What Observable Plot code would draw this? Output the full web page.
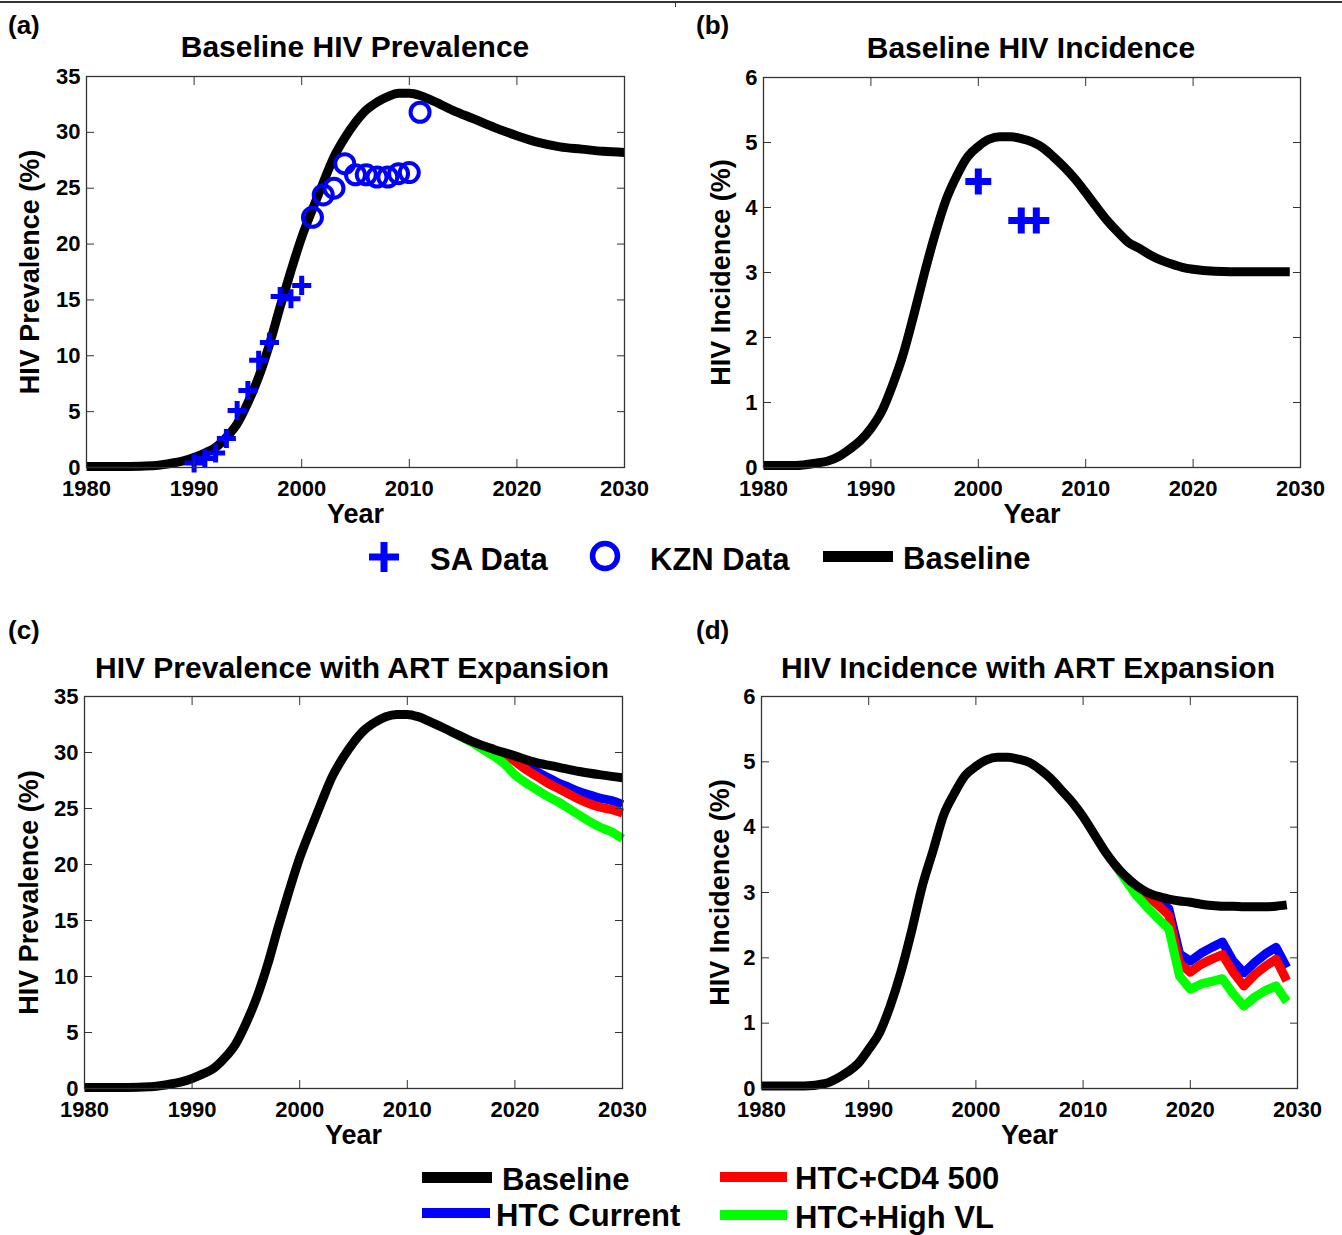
<!DOCTYPE html>
<html><head><meta charset="utf-8">
<script src="https://cdn.jsdelivr.net/npm/d3@7"></script>
<script src="https://cdn.jsdelivr.net/npm/@observablehq/plot@0.6"></script>
<style>
html,body{margin:0;padding:0;background:#fff;}
#page{position:relative;width:1342px;height:1235px;overflow:hidden;font-family:"Liberation Sans",Arial,Helvetica,sans-serif;font-weight:bold;color:#000;background:#fff;}
.t{position:absolute;white-space:nowrap;line-height:1;}
.sw{position:absolute;overflow:visible;}
</style></head><body><div id="page"></div>
<script>
// ---------------- DATA ----------------
const yearTicks = [1980, 1990, 2000, 2010, 2020, 2030];
const prevTicks = [0, 5, 10, 15, 20, 25, 30, 35];
const incTicks = [0, 1, 2, 3, 4, 5, 6];

// (a) Baseline HIV prevalence
const prevYears = [1980,1984,1986,1987,1988,1989,1990,1991,1992,1993,1994,1995,1996,1997,1998,1999,2000,2001,2002,2003,2004,2005,2006,2007,2008,2009,2010,2011,2012,2014,2016,2018,2020,2022,2024,2026,2028,2030];
const prevBaselineA = [0.1,0.1,0.15,0.25,0.4,0.6,0.9,1.3,1.8,2.7,3.9,5.8,8.1,11.0,14.4,17.6,20.6,23.1,25.5,27.8,29.5,30.9,32.0,32.7,33.2,33.5,33.5,33.3,32.9,32.0,31.2,30.4,29.7,29.1,28.7,28.5,28.3,28.2];
const saPrevYears = [1990,1991,1992,1993,1994,1995,1996,1997,1998,1999,2000];
const saPrev = [0.4,0.8,1.3,2.6,5.1,6.9,9.6,11.2,15.3,15.1,16.3];
const kznYears = [2001,2002,2003,2004,2005,2006,2007,2008,2009,2010,2011];
const kznPrev = [22.4,24.4,25.0,27.2,26.2,26.2,26.0,26.0,26.3,26.4,31.8];

// (b) Baseline HIV incidence
const incYearsB = [1980,1983,1985,1986,1987,1988,1989,1990,1991,1992,1993,1994,1995,1996,1997,1998,1999,2000,2001,2002,2003,2004,2005,2006,2007,2008,2009,2010,2011,2012,2013,2014,2015,2016,2017,2018,2019,2020,2022,2025,2029];
const incBaselineB = [0.03,0.03,0.07,0.1,0.17,0.28,0.41,0.6,0.86,1.26,1.74,2.35,3.0,3.6,4.12,4.49,4.78,4.94,5.05,5.09,5.09,5.06,5.01,4.92,4.78,4.62,4.44,4.23,4.01,3.8,3.62,3.46,3.37,3.27,3.19,3.13,3.08,3.05,3.02,3.01,3.01];
const saIncYears = [2000, 2004, 2005.4];
const saInc = [4.4, 3.8, 3.8];

// (c) Prevalence with ART expansion
const prevBaselineC = [0.1,0.1,0.15,0.25,0.4,0.6,0.9,1.3,1.8,2.7,3.9,5.8,8.1,11.0,14.4,17.6,20.6,23.1,25.5,27.8,29.5,30.9,32.0,32.7,33.2,33.4,33.4,33.2,32.8,31.9,31.0,30.3,29.7,29.1,28.7,28.3,28.0,27.75];
const greenYearsC = [2014,2015,2016,2017,2018,2019,2020,2021,2022,2023,2024,2025,2026,2027,2028,2029,2030];
const highVLPrev = [31.9,31.4,30.9,30.3,29.7,29.0,28.0,27.3,26.7,26.1,25.6,25.0,24.4,23.8,23.3,22.9,22.3];
const armYearsC = [2019,2020,2021,2022,2023,2024,2025,2026,2027,2028,2029,2030];
const cd4Prev = [29.9,29.2,28.5,27.9,27.3,26.8,26.3,25.8,25.4,25.1,24.9,24.6];
const currentPrev = [29.9,29.4,28.8,28.3,27.8,27.3,26.9,26.5,26.2,25.9,25.7,25.35];

// (d) Incidence with ART expansion
const incYearsD = [1980,1984,1986,1987,1988,1989,1990,1991,1992,1993,1994,1995,1996,1997,1998,1999,2000,2001,2002,2003,2004,2005,2006,2007,2008,2009,2010,2011,2012,2013,2014,2015,2016,2017,2018,2019,2020,2021,2022,2023,2024,2025,2026,2027,2028,2029];
const incBaselineD = [0.04,0.04,0.08,0.15,0.25,0.38,0.6,0.85,1.26,1.78,2.41,3.1,3.64,4.19,4.52,4.79,4.93,5.03,5.07,5.07,5.04,4.99,4.88,4.74,4.56,4.38,4.16,3.9,3.64,3.42,3.24,3.1,3.0,2.94,2.9,2.87,2.85,2.82,2.8,2.79,2.79,2.78,2.78,2.78,2.79,2.81];
const greenYearsD = [2013,2014,2015,2016,2017,2018,2019,2020,2021,2022,2023,2024,2025,2026,2027,2028,2029];
const highVLInc = [3.42,3.18,2.95,2.77,2.6,2.44,1.72,1.52,1.6,1.64,1.68,1.45,1.26,1.4,1.5,1.57,1.33];
const armYearsD = [2014,2015,2016,2017,2018,2019,2020,2021,2022,2023,2024,2025,2026,2027,2028,2029];
const cd4Inc = [3.24,3.08,2.94,2.81,2.65,1.92,1.78,1.9,1.98,2.05,1.78,1.57,1.74,1.87,1.98,1.65];
const currentInc = [3.24,3.09,2.98,2.88,2.75,2.06,1.95,2.07,2.16,2.24,1.95,1.77,1.93,2.06,2.16,1.85];

const BLUE = "#0000ff", RED = "#ff0000", GREEN = "#00ff00", BLACK = "#000000";
const FONT = '"Liberation Sans", Arial, Helvetica, sans-serif';

// ---------------- HELPERS ----------------
const page = document.getElementById("page");
const rows = (xs, ys) => xs.map((x, i) => ({x, y: ys[i]}));

function txt(s, x, baseline, size, anchor) {
  const d = document.createElement("div");
  d.className = "t";
  d.textContent = s;
  d.style.fontSize = size + "px";
  d.style.top = (baseline - 0.8465 * size) + "px";
  d.style.left = x + "px";
  if (anchor === "middle") d.style.transform = "translateX(-50%)";
  page.appendChild(d);
}

function swatchLine(x1, x2, y, color, w) {
  const s = d3.create("svg").attr("class", "sw")
    .attr("width", x2 - x1).attr("height", w)
    .style("left", x1 + "px").style("top", (y - w / 2) + "px");
  s.append("line").attr("x1", 0).attr("x2", x2 - x1).attr("y1", w / 2).attr("y2", w / 2)
    .attr("stroke", color).attr("stroke-width", w);
  page.appendChild(s.node());
}

function panel(cfg) {
  const ml = 80, mr = 45, mt = 20, mb = 70;
  const {L, R, T, B} = cfg;
  const axisStroke = "#333";
  const chart = Plot.plot({
    width: R - L + ml + mr,
    height: B - T + mt + mb,
    marginLeft: ml, marginRight: mr, marginTop: mt, marginBottom: mb,
    style: {background: "transparent", fontFamily: FONT, fontSize: "22px", fontWeight: "bold",
            overflow: "visible", maxWidth: "none", color: "#000"},
    x: {domain: [1980, 2030], label: null},
    y: {domain: cfg.yDomain, label: null},
    marks: [
      ...cfg.marks,
      Plot.frame({stroke: axisStroke, strokeWidth: 1.3}),
      Plot.axisX({ticks: yearTicks, tickFormat: "d", tickSize: -8, tickPadding: 21, stroke: axisStroke, label: null}),
      Plot.axisX({anchor: "top", ticks: yearTicks, tickFormat: () => "", tickSize: -8, stroke: axisStroke, label: null}),
      Plot.axisY({ticks: cfg.yTicks, tickFormat: "d", tickSize: -8, tickPadding: 14, stroke: axisStroke, label: null}),
      Plot.axisY({anchor: "right", ticks: cfg.yTicks, tickFormat: () => "", tickSize: -8, stroke: axisStroke, label: null}),
      Plot.text(["Year"], {text: d => d, frameAnchor: "bottom", textAnchor: "middle", lineAnchor: "top", dy: 36, fontSize: 27, fontWeight: "bold"}),
      Plot.text([cfg.yLabel], {text: d => d, frameAnchor: "left", textAnchor: "middle", lineAnchor: "top", rotate: -90, dx: cfg.yLabelDx, fontSize: 27, fontWeight: "bold"})
    ]
  });
  chart.style.position = "absolute";
  chart.style.left = (L - ml) + "px";
  chart.style.top = (T - mt) + "px";
  page.appendChild(chart);
}

const lineOpts = (color) => ({x: "x", y: "y", stroke: color, strokeWidth: 9, strokeLinejoin: "round", strokeLinecap: "butt"});

// ---------------- PANELS ----------------
panel({
  L: 86, R: 624, T: 76, B: 467, yDomain: [0, 35], yTicks: prevTicks,
  yLabel: "HIV Prevalence (%)", yLabelDx: -67,
  marks: [
    Plot.line(rows(prevYears, prevBaselineA), {...lineOpts(BLACK), curve: "monotone-x"}),
    Plot.dot(rows(saPrevYears, saPrev), {x: "x", y: "y", symbol: "plus", r: 6.2, stroke: BLUE, strokeWidth: 5}),
    Plot.dot(rows(kznYears, kznPrev), {x: "x", y: "y", symbol: "circle", r: 9.5, stroke: BLUE, strokeWidth: 4, fill: "none"})
  ]
});

panel({
  L: 763, R: 1300, T: 77, B: 467, yDomain: [0, 6], yTicks: incTicks,
  yLabel: "HIV Incidence (%)", yLabelDx: -53,
  marks: [
    Plot.line(rows(incYearsB, incBaselineB), {...lineOpts(BLACK), curve: "monotone-x"}),
    Plot.dot(rows(saIncYears, saInc), {x: "x", y: "y", symbol: "plus", r: 8.4, stroke: BLUE, strokeWidth: 7})
  ]
});

panel({
  L: 84, R: 622, T: 696, B: 1088, yDomain: [0, 35], yTicks: prevTicks,
  yLabel: "HIV Prevalence (%)", yLabelDx: -66,
  marks: [
    Plot.line(rows(armYearsC, currentPrev), {...lineOpts(BLUE), curve: "monotone-x"}),
    Plot.line(rows(armYearsC, cd4Prev), {...lineOpts(RED), curve: "monotone-x"}),
    Plot.line(rows(greenYearsC, highVLPrev), {...lineOpts(GREEN), curve: "monotone-x"}),
    Plot.line(rows(prevYears, prevBaselineC), {...lineOpts(BLACK), curve: "monotone-x"})
  ]
});

panel({
  L: 761, R: 1297, T: 696, B: 1088, yDomain: [0, 6], yTicks: incTicks,
  yLabel: "HIV Incidence (%)", yLabelDx: -52,
  marks: [
    Plot.line(rows(armYearsD, currentInc), lineOpts(BLUE)),
    Plot.line(rows(armYearsD, cd4Inc), lineOpts(RED)),
    Plot.line(rows(greenYearsD, highVLInc), lineOpts(GREEN)),
    Plot.line(rows(incYearsD, incBaselineD), {...lineOpts(BLACK), curve: "monotone-x"})
  ]
});

// ---------------- TITLES & LABELS ----------------
txt("(a)", 8, 34, 26);
txt("(b)", 696, 34, 26);
txt("(c)", 8, 639, 26);
txt("(d)", 696, 639, 26);
txt("Baseline HIV Prevalence", 355, 57, 30, "middle");
txt("Baseline HIV Incidence", 1031, 58, 30, "middle");
txt("HIV Prevalence with ART Expansion", 352, 678, 30, "middle");
txt("HIV Incidence with ART Expansion", 1028, 678, 30, "middle");

// top rule
const rule = document.createElement("div");
rule.style.cssText = "position:absolute;left:0;top:1px;width:1342px;height:2px;background:#333;";
page.appendChild(rule);
const rtick = document.createElement("div");
rtick.style.cssText = "position:absolute;left:675px;top:2px;width:1px;height:5px;background:#333;";
page.appendChild(rtick);

// ---------------- LEGEND 1 ----------------
{
  const s = d3.create("svg").attr("class", "sw").attr("width", 40).attr("height", 40)
    .style("left", "364px").style("top", "537px");
  s.append("path").attr("d", "M5,20H35M20,5V35").attr("stroke", BLUE).attr("stroke-width", 7).attr("fill", "none");
  page.appendChild(s.node());
  const c = d3.create("svg").attr("class", "sw").attr("width", 40).attr("height", 40)
    .style("left", "585px").style("top", "536px");
  c.append("circle").attr("cx", 20).attr("cy", 20).attr("r", 12.5).attr("stroke", BLUE).attr("stroke-width", 5.5).attr("fill", "none");
  page.appendChild(c.node());
  swatchLine(823, 893, 556, BLACK, 11);
  txt("SA Data", 430, 570, 31);
  txt("KZN Data", 650, 570, 31);
  txt("Baseline", 903, 569, 31);
}

// ---------------- LEGEND 2 ----------------
swatchLine(422, 492, 1177, BLACK, 11);
swatchLine(422, 490, 1213, BLUE, 10);
swatchLine(720, 787, 1177, RED, 10);
swatchLine(720, 787, 1215, GREEN, 10);
txt("Baseline", 502, 1190, 31);
txt("HTC Current", 496, 1226, 31);
txt("HTC+CD4 500", 795, 1189, 31);
txt("HTC+High VL", 795, 1228, 31);
</script>
</body></html>
